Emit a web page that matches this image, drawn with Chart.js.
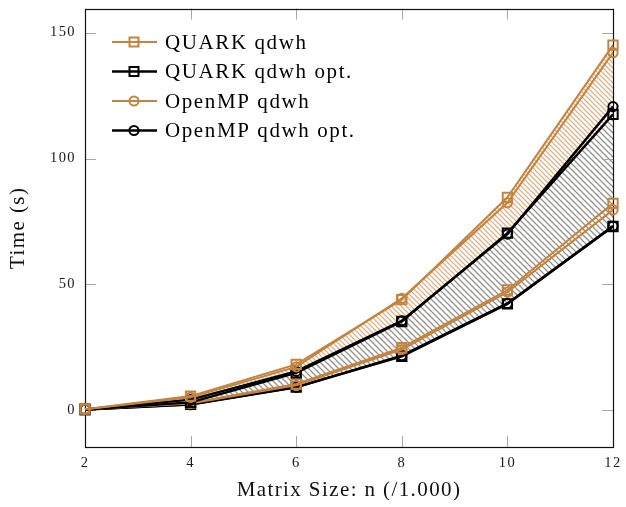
<!DOCTYPE html>
<html><head><meta charset="utf-8">
<script src="https://cdn.jsdelivr.net/npm/chart.js@4/dist/chart.umd.min.js"></script>
<style>html,body{margin:0;padding:0;background:#fff}canvas{display:block}</style>
</head><body>
<canvas id="c" width="626" height="507"></canvas>
<script>
// ---- data ----
const matrixSizes = [2, 4, 6, 8, 10, 12];
const xTicks = [2, 4, 6, 8, 10, 12];
const yTicks = [0, 50, 100, 150];
// upper group
const quarkUpper     = [0.5, 5.7, 18.3, 44.0, 84.6, 145.0];
const openmpUpper    = [0.5, 5.2, 17.3, 44.5, 82.4, 142.0];
const quarkOptUpper  = [0.4, 3.2, 14.9, 35.3, 70.4, 117.5];
const openmpOptUpper = [0.4, 4.3, 15.5, 35.6, 70.0, 120.6];
// lower group
const quarkLower     = [0.5, 3.0, 10.5, 24.9, 47.8, 82.2];
const openmpLower    = [0.5, 2.8, 10.0, 24.2, 47.0, 79.6];
const quarkOptLower  = [0.4, 2.4, 9.3, 21.5, 42.3, 73.0];
const openmpOptLower = [0.4, 2.3, 9.2, 21.8, 42.5, 73.2];
const legendLabels = ['QUARK qdwh', 'QUARK qdwh opt.', 'OpenMP qdwh', 'OpenMP qdwh opt.'];

const BROWN = '#c4843f';
const BLACK = '#000000';
const SERIF = '"Liberation Serif", "DejaVu Serif", serif';
const SPACING = '1.4px';

const canvas = document.getElementById('c');
const ctx = canvas.getContext('2d');

function hatch(color, s, lw) {
  const c = document.createElement('canvas');
  c.width = s; c.height = s;
  const g = c.getContext('2d');
  g.strokeStyle = color; g.lineWidth = lw;
  g.beginPath();
  g.moveTo(-1, -1); g.lineTo(s + 1, s + 1);
  g.moveTo(-1, s - 1); g.lineTo(1, s + 1);
  g.moveTo(s - 1, -1); g.lineTo(s + 1, 1);
  g.stroke();
  return ctx.createPattern(c, 'repeat');
}
const brownHatch = hatch('#ddb489', 5, 1.3);
const grayHatch = hatch('#95908b', 6, 1.25);

const pts = arr => matrixSizes.map((x, i) => ({x: x, y: arr[i]}));

function ds(label, arr, color, shape, fill, bg) {
  const isRect = shape === 'rect';
  return {
    label: label,
    data: pts(arr),
    borderColor: color,
    borderWidth: color === BLACK ? 2.4 : 2,
    pointStyle: shape,
    pointRadius: isRect ? 6.6 : 4.6,
    pointBorderWidth: 2,
    pointBorderColor: color,
    pointBackgroundColor: 'rgba(0,0,0,0)',
    tension: 0,
    fill: fill,
    backgroundColor: bg || 'rgba(0,0,0,0)',
    clip: false
  };
}

const datasets = [
  ds('QUARK qdwh', quarkUpper, BROWN, 'rect', 2, brownHatch),
  ds('OpenMP qdwh', openmpUpper, BROWN, 'circle', false),
  ds('QUARK qdwh opt.', quarkOptUpper, BLACK, 'rect', 6, grayHatch),
  ds('OpenMP qdwh opt.', openmpOptUpper, BLACK, 'circle', false),
  ds('QUARK qdwh (2)', quarkLower, BROWN, 'rect', false),
  ds('OpenMP qdwh (2)', openmpLower, BROWN, 'circle', false),
  ds('QUARK qdwh opt. (2)', quarkOptLower, BLACK, 'rect', false),
  ds('OpenMP qdwh opt. (2)', openmpOptLower, BLACK, 'circle', false)
];

const setSpacing = chart => { chart.ctx.letterSpacing = SPACING; };

const frame = {
  id: 'frame',
  beforeUpdate: setSpacing,
  beforeLayout: setSpacing,
  beforeDraw: setSpacing,
  beforeDatasetsDraw(chart) {
    const c = chart.ctx, a = chart.chartArea;
    const xs = chart.scales.x, ys = chart.scales.y;
    c.save();
    c.strokeStyle = '#a8a8a8'; c.lineWidth = 1;
    c.beginPath();
    yTicks.forEach(v => {
      const p = Math.round(ys.getPixelForValue(v)) + 0.5;
      c.moveTo(a.left, p); c.lineTo(a.left + 11, p);
      c.moveTo(a.right, p); c.lineTo(a.right - 11, p);
    });
    xTicks.forEach(v => {
      const p = Math.round(xs.getPixelForValue(v)) + 0.5;
      c.moveTo(p, a.bottom); c.lineTo(p, a.bottom - 11);
      c.moveTo(p, a.top); c.lineTo(p, a.top + 11);
    });
    c.stroke();
    c.strokeStyle = '#111'; c.lineWidth = 1.2;
    c.strokeRect(Math.round(a.left) + 0.5, Math.round(a.top) + 0.5,
                 Math.round(a.right - a.left), Math.round(a.bottom - a.top));
    c.restore();
  },
  afterDraw(chart) {
    const c = chart.ctx;
    c.save();
    const styles = [[BROWN, 'rect'], [BLACK, 'rect'], [BROWN, 'circle'], [BLACK, 'circle']];
    c.font = '21px ' + SERIF;
    c.letterSpacing = '1.6px';
    c.textBaseline = 'middle';
    c.textAlign = 'left';
    legendLabels.forEach((lab, i) => {
      const y = 42 + i * 29.5;
      const [col, shp] = styles[i];
      c.strokeStyle = col; c.lineWidth = col === BLACK ? 2.4 : 2;
      c.beginPath(); c.moveTo(112, y); c.lineTo(157, y); c.stroke();
      c.lineWidth = 2;
      c.beginPath();
      if (shp === 'rect') c.rect(129.5, y - 4.5, 9, 9);
      else c.arc(134, y, 4.6, 0, Math.PI * 2);
      c.stroke();
      c.fillStyle = '#000';
      c.fillText(lab, 165, y + 1);
    });
    c.restore();
  }
};

new Chart(ctx, {
  type: 'line',
  data: { datasets: datasets },
  options: {
    responsive: false,
    animation: false,
    devicePixelRatio: 1,
    layout: { padding: { top: 7, right: 13, left: 0, bottom: 0 } },
    plugins: {
      legend: { display: false },
      tooltip: { enabled: false },
      filler: { drawTime: 'beforeDatasetsDraw', propagate: false }
    },
    scales: {
      x: {
        type: 'linear', min: 2, max: 12,
        afterBuildTicks: s => { s.ticks = xTicks.map(v => ({value: v})); },
        afterFit: s => { s.height = 60; s.paddingLeft = 0; s.paddingRight = 0; },
        grid: { display: false, drawTicks: false },
        border: { display: false },
        ticks: { color: '#1a1a1a', font: { family: SERIF, size: 14.5 }, padding: 7, maxRotation: 0 },
        title: { display: true, text: 'Matrix Size: n (/1.000)', color: '#111',
                 font: { family: SERIF, size: 21 }, padding: { top: 0, bottom: 4 } }
      },
      y: {
        type: 'linear', min: -14.5, max: 159.5,
        afterBuildTicks: s => { s.ticks = yTicks.map(v => ({value: v})); },
        afterFit: s => { s.width = 85; s.paddingTop = 0; s.paddingBottom = 0; },
        grid: { display: false, drawTicks: false },
        border: { display: false },
        ticks: { color: '#1a1a1a', font: { family: SERIF, size: 14.5 }, padding: 9 },
        title: { display: true, text: 'Time (s)', color: '#111',
                 font: { family: SERIF, size: 21 }, padding: { top: 6, bottom: 0 } }
      }
    }
  },
  plugins: [frame]
});
</script>
</body></html>
